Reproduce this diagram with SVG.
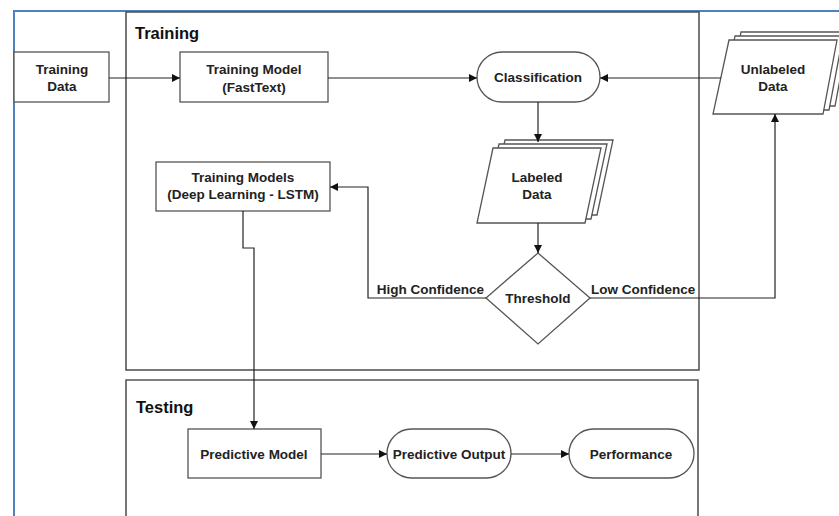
<svg xmlns="http://www.w3.org/2000/svg" width="839" height="516" viewBox="0 0 839 516">
<defs>
<marker id="arr" viewBox="0 0 10 10" refX="10" refY="5" markerWidth="9" markerHeight="8" markerUnits="userSpaceOnUse" orient="auto">
<path d="M0,0 L10,5 L0,10 Z" fill="#111"/>
</marker>
<style>
.frame{fill:none;stroke:#4f81bd;stroke-width:2}
.lane{fill:none;stroke:#555;stroke-width:1.6}
.node{fill:#fff;stroke:#555;stroke-width:1.3}
.t{font-family:"Liberation Sans",Arial,sans-serif;font-weight:bold;font-size:13.5px;fill:#222;text-anchor:middle}
.title{font-family:"Liberation Sans",Arial,sans-serif;font-weight:bold;font-size:16.5px;fill:#111}
.lbl{font-family:"Liberation Sans",Arial,sans-serif;font-weight:bold;font-size:13.5px;fill:#222}
.c{fill:none;stroke:#222;stroke-width:1.2}
</style>
</defs>
<rect width="839" height="516" fill="#fff"/>
<path class="frame" d="M14,516 V11 H839"/>
<g id="training-lane">
<rect class="lane" x="126" y="12" width="573" height="358"/>
<text class="title" x="135" y="39">Training</text>
</g>
<g id="testing-lane">
<path class="lane" d="M126,520 V380 H698 V520"/>
<text class="title" x="136" y="413">Testing</text>
</g>
<g id="training-data">
<rect class="node" x="14" y="52" width="95" height="50"/>
<text class="t" x="62" y="74">Training</text>
<text class="t" x="62" y="91">Data</text>
</g>
<g id="training-model">
<rect class="node" x="180" y="52" width="148" height="50"/>
<text class="t" x="254" y="74">Training Model</text>
<text class="t" x="254" y="92">(FastText)</text>
</g>
<g id="classification">
<rect class="node" x="477" y="52" width="123" height="50" rx="25"/>
<text class="t" x="538" y="82">Classification</text>
</g>
<g id="unlabeled-data">
<path class="node" d="M741,32 H849 L835,106 H727 Z"/>
<path class="node" d="M735,36 H843 L829,110 H721 Z"/>
<path class="node" d="M729,40 H837 L823,114 H713 Z"/>
<text class="t" x="773" y="74">Unlabeled</text>
<text class="t" x="773" y="91">Data</text>
</g>
<g id="labeled-data">
<path class="node" d="M505,140 H613 L597,215 H489 Z"/>
<path class="node" d="M499,144 H607 L591,219 H483 Z"/>
<path class="node" d="M493,148 H601 L585,223 H477 Z"/>
<text class="t" x="537" y="182">Labeled</text>
<text class="t" x="537" y="199">Data</text>
</g>
<g id="threshold">
<path class="node" d="M538,253 L590,298 L538,344 L486,298 Z"/>
<text class="t" x="538" y="303">Threshold</text>
</g>
<g id="training-models">
<rect class="node" x="156" y="162" width="174" height="49"/>
<text class="t" x="243" y="182">Training Models</text>
<text class="t" x="243" y="199">(Deep Learning - LSTM)</text>
</g>
<g id="predictive-model">
<rect class="node" x="188" y="429" width="133" height="49"/>
<text class="t" x="254" y="459">Predictive Model</text>
</g>
<g id="predictive-output">
<rect class="node" x="387" y="429" width="124" height="49" rx="24.5"/>
<text class="t" x="449" y="459">Predictive Output</text>
</g>
<g id="performance">
<rect class="node" x="569" y="429" width="125" height="49" rx="24.5"/>
<text class="t" x="631" y="459">Performance</text>
</g>
<g id="connectors">
<path class="c" d="M109,78 H180" marker-end="url(#arr)"/>
<path class="c" d="M328,78 H477" marker-end="url(#arr)"/>
<path class="c" d="M721,78 H600" marker-end="url(#arr)"/>
<path class="c" d="M538,102 V142" marker-end="url(#arr)"/>
<path class="c" d="M538,223 V253" marker-end="url(#arr)"/>
<path class="c" d="M486,298 H368 V187 H330" marker-end="url(#arr)"/>
<path class="c" d="M590,298 H775 V114" marker-end="url(#arr)"/>
<path class="c" d="M243,211 V248 H254 V429" marker-end="url(#arr)"/>
<path class="c" d="M321,454 H387" marker-end="url(#arr)"/>
<path class="c" d="M511,454 H569" marker-end="url(#arr)"/>
<text class="lbl" x="484" y="294" text-anchor="end">High Confidence</text>
<text class="lbl" x="591" y="294">Low Confidence</text>
</g>
</svg>
